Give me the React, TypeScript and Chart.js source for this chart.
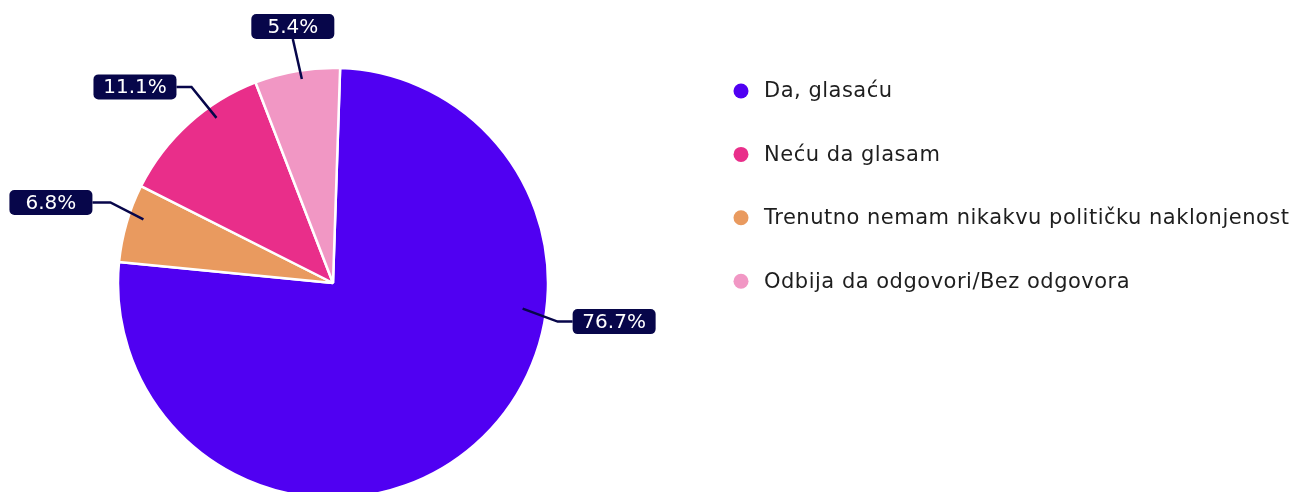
import React, { useEffect, useRef } from "react";
import { Chart, registerables } from "chart.js";

Chart.register(...registerables);

// Categories in the order the slices run clockwise from the top
const categories = [
  "Da, glasaću",
  "Trenutno nemam nikakvu političku naklonjenost",
  "Neću da glasam",
  "Odbija da odgovori/Bez odgovora",
];
// Slice sizes
const sliceValues = [76.1, 5.9, 11.7, 6.4];
// Percentages printed in the callouts
const labelValues = [76.7, 6.8, 11.1, 5.4];
const colors = ["#5000F2", "#E99A5F", "#E92E8A", "#F197C4"];
// Legend order (indices into categories)
const legendOrder = [0, 2, 1, 3];

const FONT = "'DejaVu Sans', sans-serif";
const NAVY = "#07064A";

const calloutLayout = [
  { along: 0.35, radial: 0.89, elbow: [35, 13], side: "right", gap: 15 },
  { along: 0.61, radial: 0.93, elbow: [-33, -17], side: "left", gap: 18 },
  { along: 0.665, radial: 0.94, elbow: [-25, -31], side: "left", gap: 15 },
  { along: 0.54, radial: 0.96, elbow: [-9, -40], side: "top", gap: 0 },
];

const legendLayout = { dotX: 741, textX: 764, firstY: 91, rowGap: 63.4, dotR: 7.5, fontSize: 21, spacing: 0.5 };

function roundRect(ctx: CanvasRenderingContext2D, x: number, y: number, w: number, h: number, r: number) {
  ctx.beginPath();
  ctx.moveTo(x + r, y);
  ctx.lineTo(x + w - r, y);
  ctx.arcTo(x + w, y, x + w, y + r, r);
  ctx.lineTo(x + w, y + h - r);
  ctx.arcTo(x + w, y + h, x + w - r, y + h, r);
  ctx.lineTo(x + r, y + h);
  ctx.arcTo(x, y + h, x, y + h - r, r);
  ctx.lineTo(x, y + r);
  ctx.arcTo(x, y, x + r, y, r);
  ctx.closePath();
}

const calloutPlugin = {
  id: "callouts",
  afterDatasetsDraw(chart: any) {
    const ctx: any = chart.ctx;
    const meta = chart.getDatasetMeta(0);
    ctx.save();
    ctx.font = `20px ${FONT}`;
    if ("letterSpacing" in ctx) ctx.letterSpacing = "0px";
    meta.data.forEach((arc: any, i: number) => {
      const p = arc.getProps(["x", "y", "startAngle", "endAngle", "outerRadius"], true);
      const L = calloutLayout[i];
      const a = p.startAngle + L.along * (p.endAngle - p.startAngle);
      const ax = p.x + Math.cos(a) * p.outerRadius * L.radial;
      const ay = p.y + Math.sin(a) * p.outerRadius * L.radial;
      const ex = ax + L.elbow[0];
      const ey = ay + L.elbow[1];
      const text = labelValues[i].toFixed(1) + "%";
      const bw = 83;
      const bh = 25;
      let bx = 0, by = 0, lx = ex, ly = ey;
      if (L.side === "right") {
        bx = ex + L.gap; by = ey - bh / 2; lx = bx; ly = ey;
      } else if (L.side === "left") {
        bx = ex - L.gap - bw; by = ey - bh / 2; lx = bx + bw; ly = ey;
      } else {
        bx = ex - bw / 2; by = ey - bh; lx = ex; ly = ey;
      }
      ctx.strokeStyle = NAVY;
      ctx.lineWidth = 2.5;
      ctx.beginPath();
      ctx.moveTo(ax, ay);
      ctx.lineTo(ex, ey);
      ctx.lineTo(lx, ly);
      ctx.stroke();
      ctx.fillStyle = NAVY;
      roundRect(ctx, bx, by, bw, bh, 5);
      ctx.fill();
      ctx.fillStyle = "#ffffff";
      ctx.textAlign = "center";
      ctx.textBaseline = "middle";
      ctx.fillText(text, bx + bw / 2, by + bh / 2 + 1);
    });
    ctx.restore();
  },
  afterDraw(chart: any) {
    const ctx: any = chart.ctx;
    ctx.save();
    ctx.font = `${legendLayout.fontSize}px ${FONT}`;
    if ("letterSpacing" in ctx) ctx.letterSpacing = `${legendLayout.spacing}px`;
    ctx.textAlign = "left";
    ctx.textBaseline = "middle";
    legendOrder.forEach((idx, row) => {
      const y = legendLayout.firstY + row * legendLayout.rowGap;
      ctx.fillStyle = colors[idx];
      ctx.beginPath();
      ctx.arc(legendLayout.dotX, y, legendLayout.dotR, 0, Math.PI * 2);
      ctx.fill();
      ctx.fillStyle = "#1E1E1E";
      ctx.fillText(categories[idx], legendLayout.textX, y + 1);
    });
    ctx.restore();
  },
};

export default function App() {
  const ref = useRef<HTMLCanvasElement | null>(null);
  useEffect(() => {
    if (!ref.current) return;
    const chart = new Chart(ref.current, {
      type: "pie",
      data: {
        labels: categories,
        datasets: [
          {
            data: sliceValues,
            backgroundColor: colors,
            borderColor: "#ffffff",
            borderWidth: 2.5,
            radius: 215,
          } as any,
        ],
      },
      options: {
        responsive: false,
        animation: false,
        devicePixelRatio: 1,
        rotation: 1.9,
        layout: { padding: { left: 0, right: 629, top: 74, bottom: 0 } },
        plugins: {
          legend: { display: false },
          tooltip: { enabled: false },
        },
      } as any,
      plugins: [calloutPlugin],
    });
    return () => chart.destroy();
  }, []);
  return (
    <div style={{ position: "fixed", left: 0, top: 0, width: 1295, height: 492, background: "#fff" }}>
      <canvas ref={ref} width={1295} height={492} style={{ display: "block" }} />
    </div>
  );
}
